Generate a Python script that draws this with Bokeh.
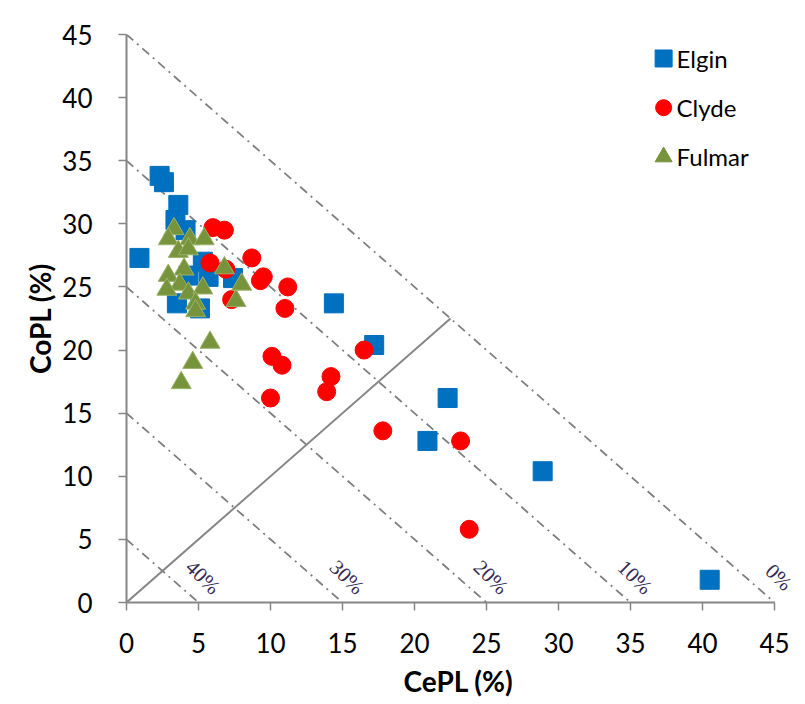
from bokeh.plotting import figure
from bokeh.models import Range1d, FixedTicker
from bokeh.core.properties import value
from bokeh.embed import file_html
from bokeh.resources import INLINE

# ---------------- data ----------------
elgin_x = [2.3, 2.6, 3.6, 3.4, 4.1, 0.9, 5.3, 5.7, 7.4, 4.3, 3.5, 5.1, 14.4, 17.2, 22.3, 20.9, 28.9, 40.5]
elgin_y = [33.8, 33.3, 31.5, 30.3, 29.5, 27.3, 27.0, 25.8, 25.7, 25.9, 23.7, 23.3, 23.7, 20.4, 16.2, 12.8, 10.4, 1.8]

clyde_x = [6.0, 6.8, 5.8, 6.9, 8.7, 9.5, 9.3, 11.2, 7.3, 11.0, 10.1, 10.8, 10.0, 14.2, 13.9, 16.5, 17.8, 23.2, 23.8]
clyde_y = [29.7, 29.5, 26.9, 26.4, 27.3, 25.8, 25.5, 25.0, 24.0, 23.3, 19.5, 18.8, 16.2, 17.9, 16.7, 20.0, 13.6, 12.8, 5.8]

fulmar_x = [3.3, 2.9, 4.4, 5.4, 3.6, 4.3, 4.0, 2.9, 3.7, 2.8, 4.3, 5.3, 4.8, 4.8, 6.8, 8.0, 7.6, 5.8, 4.6, 3.8]
fulmar_y = [29.6, 28.8, 28.8, 28.8, 27.8, 28.0, 26.4, 25.9, 25.2, 24.8, 24.5, 24.9, 23.7, 23.1, 26.5, 25.2, 23.9, 20.6, 19.0, 17.4]

series_names = ["Elgin", "Clyde", "Fulmar"]
iso_sums = [45, 35, 25, 15, 5]
iso_labels = ["0%", "10%", "20%", "30%", "40%"]
axis_ticks = [0, 5, 10, 15, 20, 25, 30, 35, 40, 45]
axis_max = 45
x_title = "CePL (%)"
y_title = "CoPL (%)"

# ---------------- layout / style ----------------
W, H = 800, 700
LEFT, RIGHT, TOP, BOTTOM = 126, 10, 34, 98
frame_w = W - LEFT - RIGHT
px_per_unit = 648 / axis_max
x_end = frame_w / px_per_unit

BLUE, RED, GREEN = "#0070C0", "#FF0000", "#77933C"
GRAY = "#868686"
FONT = "Lato"

p = figure(width=W, height=H, x_range=Range1d(0, x_end), y_range=Range1d(0, axis_max),
           output_backend="svg", toolbar_location=None,
           min_border_left=LEFT, min_border_right=RIGHT,
           min_border_top=TOP, min_border_bottom=BOTTOM)
p.outline_line_color = None
p.xgrid.visible = False
p.ygrid.visible = False
p.background_fill_color = "white"
p.border_fill_color = "white"

for ax in (p.xaxis[0], p.yaxis[0]):
    ax.bounds = (0, axis_max)
    ax.ticker = FixedTicker(ticks=axis_ticks)
    ax.axis_line_color = GRAY
    ax.axis_line_width = 2
    ax.major_tick_line_color = GRAY
    ax.major_tick_line_width = 1.5
    ax.major_tick_in = 0
    ax.major_tick_out = 8
    ax.minor_tick_line_color = None
    ax.major_label_text_font = FONT
    ax.major_label_text_font_size = "26px"
    ax.major_label_text_color = "black"
    ax.axis_label_text_font = FONT
    ax.axis_label_text_font_size = "28px"
    ax.axis_label_text_font_style = "bold"
    ax.axis_label_text_color = "black"
p.xaxis.major_label_standoff = 22
p.yaxis.major_label_standoff = 26
p.xaxis.axis_label = x_title
p.yaxis.axis_label = y_title
p.xaxis.axis_label_standoff = 8
p.yaxis.axis_label_standoff = 2

# iso-lines (x + y = const)
p.multi_line(xs=[[0, c] for c in iso_sums], ys=[[c, 0] for c in iso_sums],
             line_color="#7f7f7f", line_width=1.8, line_dash="9 5 2 5")
# diagonal y = x up to the outermost iso-line
d_end = max(iso_sums) / 2
p.line([0, d_end], [0, d_end], line_color=GRAY, line_width=2)

# iso-line labels
p.text(x=[c + 0.3 for c in iso_sums], y=[2.0] * len(iso_sums), text=iso_labels,
       angle=-0.78, text_align="center", text_baseline="middle",
       text_font=value("Liberation Serif"), text_font_size="21px", text_color="#332c54")

# data series
p.scatter(elgin_x, elgin_y, marker="square", size=19, fill_color=BLUE, line_color=BLUE)
p.scatter(clyde_x, clyde_y, marker="circle", size=18, fill_color=RED, line_color=RED)
p.scatter(fulmar_x, fulmar_y, marker="triangle", size=20, fill_color=GREEN, line_color="#9bb36a", line_width=1)

# legend (manual, to match marker size/placement)
leg_mx = 37.3
leg_tx = 38.2
leg_ys = [43.1, 39.2, 35.3]
p.scatter([leg_mx], [leg_ys[0]], marker="square", size=17, fill_color=BLUE, line_color=BLUE)
p.scatter([leg_mx], [leg_ys[1]], marker="circle", size=16, fill_color=RED, line_color=RED)
p.scatter([leg_mx], [leg_ys[2]], marker="triangle", size=17, fill_color=GREEN, line_color=GREEN)
p.text(x=[leg_tx] * 3, y=leg_ys, text=series_names, text_align="left", text_baseline="middle",
       text_font=value(FONT), text_font_size="24px", text_color="black")

open("out.html", "w").write(file_html(p, INLINE))
